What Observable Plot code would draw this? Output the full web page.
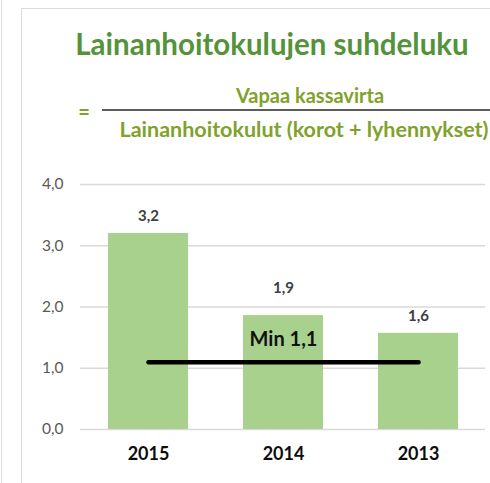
<!DOCTYPE html>
<html>
<head>
<meta charset="utf-8">
<script src="https://cdn.jsdelivr.net/npm/d3@7"></script>
<script src="https://cdn.jsdelivr.net/npm/@observablehq/plot@0.6"></script>
<style>
  html, body { margin: 0; padding: 0; background: #fff; }
  #page { position: relative; width: 490px; height: 483px; overflow: hidden; background: #fff; font-family: Lato, sans-serif; }
  #page svg { display: block; }
  .frame { position: absolute; background: #dcdcdc; }
</style>
</head>
<body>
<div id="page">
  <div id="header"></div>
  <div id="chart"></div>
  <div class="frame" style="left:1px;top:0;width:1px;height:483px"></div>
  <div class="frame" style="left:21px;top:8px;width:1px;height:475px"></div>
  <div class="frame" style="left:21px;top:8px;width:469px;height:1px"></div>
</div>
<script>
// ---- data ----
const years = ["2015", "2014", "2013"];
const ratios = [3.2, 1.86, 1.57];
const ratioLabels = ["3,2", "1,9", "1,6"];
const yTicks = [0, 1, 2, 3, 4];
const minValue = 1.1;
const minLabel = "Min 1,1";
const titleText = "Lainanhoitokulujen suhdeluku";
const numeratorText = "Vapaa kassavirta";
const denominatorText = "Lainanhoitokulut (korot + lyhennykset)";

const data = years.map((year, i) => ({year, value: ratios[i], label: ratioLabels[i]}));
const minLine = [{year: years[0], value: minValue}, {year: years[years.length - 1], value: minValue}];
const fmt = d => d.toFixed(1).replace(".", ",");

// ---- header (title + formula) ----
const titleGreen = "#54933a";
const olive = "#80a22c";
const header = d3.select("#header").append("svg")
  .attr("width", 490).attr("height", 165)
  .style("font-family", "Lato, sans-serif");
header.append("text")
  .attr("x", 272).attr("y", 55).attr("text-anchor", "middle")
  .attr("font-size", 29.5).attr("font-weight", 700).attr("fill", titleGreen)
  .text(titleText);
header.append("text")
  .attr("x", 84).attr("y", 119).attr("text-anchor", "middle")
  .attr("font-size", 20).attr("font-weight", 700).attr("fill", olive)
  .text("=");
header.append("line")
  .attr("x1", 102).attr("x2", 490).attr("y1", 110).attr("y2", 110)
  .attr("stroke", "#262626").attr("stroke-width", 1.6);
header.append("text")
  .attr("x", 310).attr("y", 103).attr("text-anchor", "middle")
  .attr("font-size", 20).attr("font-weight", 700).attr("fill", olive)
  .text(numeratorText);
header.append("text")
  .attr("x", 304).attr("y", 137).attr("text-anchor", "middle")
  .attr("font-size", 21.5).attr("font-weight", 700).attr("fill", olive)
  .text(denominatorText);

// ---- chart ----
const chart = Plot.plot({
  width: 490,
  height: 318,
  marginTop: 19,
  marginBottom: 54,
  marginLeft: 80,
  marginRight: 5,
  style: {fontFamily: "Lato, sans-serif", background: "transparent", overflow: "visible"},
  x: {domain: years, paddingInner: 0.41, paddingOuter: 0.2, label: null},
  y: {domain: [0, 4], ticks: yTicks, label: null, tickFormat: fmt},
  marks: [
    Plot.ruleY(yTicks, {stroke: "#d9d9d9", strokeWidth: 1.5}),
    Plot.barY(data, {x: "year", y: "value", fill: "#a9d18e"}),
    Plot.text(data.filter(d => d.year !== "2014"), {x: "year", y: "value", text: "label", dy: -17, fontSize: 15, fontWeight: 700, fill: "#404040"}),
    Plot.text(data.filter(d => d.year === "2014"), {x: "year", y: "value", text: "label", dy: -27, fontSize: 15, fontWeight: 700, fill: "#404040"}),
    Plot.line(minLine, {x: "year", y: "value", stroke: "#000", strokeWidth: 4.5, strokeLinecap: "round"}),
    Plot.text([{year: years[1], value: minValue, label: minLabel}], {x: "year", y: "value", text: "label", dy: -23, fontSize: 20, fontWeight: 700, fill: "#111"}),
    Plot.axisY({ticks: yTicks, tickFormat: fmt, tickSize: 0, tickPadding: 17, fontSize: 15.5, fill: "#595959", label: null}),
    Plot.axisX({tickSize: 0, tickPadding: 18, fontSize: 18, fontWeight: 700, fill: "#0d0d0d", label: null})
  ]
});
document.getElementById("chart").appendChild(chart);
</script>
</body>
</html>
